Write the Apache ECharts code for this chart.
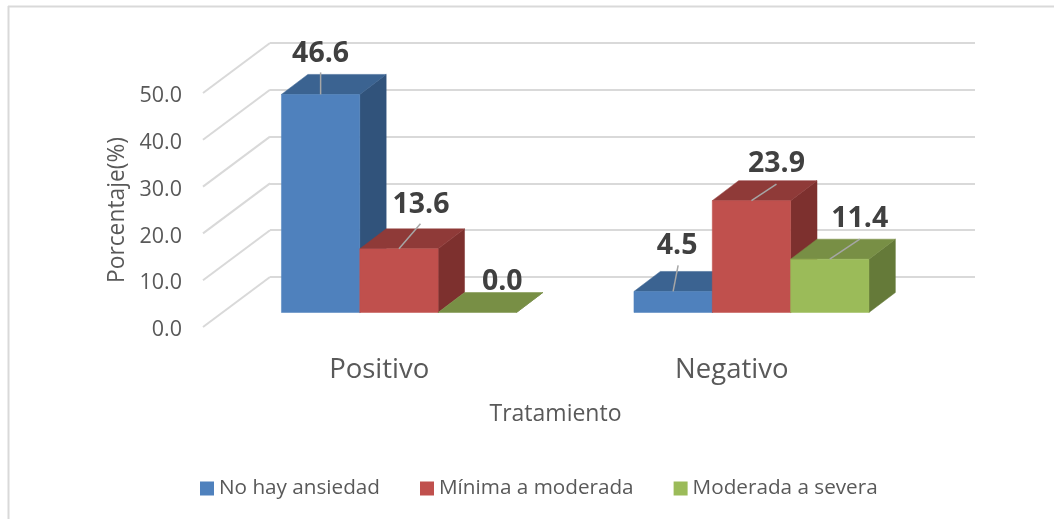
<!DOCTYPE html>
<html>
<head>
<meta charset="utf-8">
<style>html,body{margin:0;padding:0;background:#fff}#c{width:1054px;height:519px}</style>
<script src="https://cdn.jsdelivr.net/npm/echarts@6/dist/echarts.min.js"></script>
</head>
<body>
<div id="c"></div>
<script>
const categories = ['Positivo', 'Negativo'];
const noHayAnsiedad = [46.6, 4.5];
const minimaAModerada = [13.6, 23.9];
const moderadaASevera = [0.0, 11.4];
const wallTicks = [0, 10, 20, 30, 40, 50];

const FONT = '"Open Sans", "Noto Sans", sans-serif';
const seriesDefs = [
  { name: 'No hay ansiedad', values: noHayAnsiedad, front: '#4F81BD', top: '#3B6391', side: '#31537B', idx: 0 },
  { name: 'Mínima a moderada', values: minimaAModerada, front: '#C0504D', top: '#8F3A38', side: '#7D302E', idx: 1 },
  { name: 'Moderada a severa', values: moderadaASevera, front: '#9BBB59', top: '#788F45', side: '#657A39', idx: 2 }
];
// Label / leader offsets relative to the top-front centre of each bar [labelDx, labelDy, lineDx, lineDy]
const labelOffsets = [
  [[0, -41, 0, -22], [4, -46, 5, -26]],
  [[22, -44, 21.5, -25], [25, -37, 25, -16.5]],
  [[25, -31, 0, 0], [30, -40, 30, -20]]
];
// projection of the depth axis
const WALL = { dx: 67, dy: -50 };
const SHIFT = { dx: 19.7, dy: -14.5 };
const BAR_DEPTH = { dx: 26.4, dy: -20 };

function poly(points, fill) {
  return { type: 'polygon', shape: { points }, style: { fill, stroke: fill, lineWidth: 0.5 } };
}
function barRenderer(def) {
  return function (params, api) {
    const cat = api.value(0), val = api.value(1);
    const band = api.size([1, 0])[0];
    const w = band / 4.5;
    const c = api.coord([cat, val]);
    const base = api.coord([cat, 0]);
    const x = c[0] - 1.5 * w + def.idx * w + SHIFT.dx;
    const yT = c[1] + SHIFT.dy;
    const yB = base[1] + SHIFT.dy;
    const d = BAR_DEPTH;
    const children = [
      poly([[x + w, yT], [x + w + d.dx, yT + d.dy], [x + w + d.dx, yB + d.dy], [x + w, yB]], def.side),
      poly([[x, yT], [x + d.dx, yT + d.dy], [x + w + d.dx, yT + d.dy], [x + w, yT]], def.top)
    ];
    if (yB - yT > 0.5) children.push(poly([[x, yT], [x + w, yT], [x + w, yB], [x, yB]], def.front));
    const off = labelOffsets[def.idx][cat];
    const cx = x + w / 2;
    if (off[2] !== 0 || off[3] !== 0) {
      children.push({
        type: 'line', z2: 50,
        shape: { x1: cx, y1: yT, x2: cx + off[2], y2: yT + off[3] },
        style: { stroke: '#A6A6A6', lineWidth: 1.5 }
      });
    }
    children.push({
      type: 'text', z2: 60, x: cx + off[0], y: yT + off[1],
      style: {
        text: val.toFixed(1), fill: '#404040', align: 'center', verticalAlign: 'middle',
        font: 'bold 28.5px ' + FONT
      }
    });
    return { type: 'group', children };
  };
}
function wallRenderer(params, api) {
  const v = api.value(1);
  const c = api.coord([0, v]);
  const x = c[0] - api.size([1, 0])[0] / 2;
  return {
    type: 'line',
    shape: { x1: x, y1: c[1], x2: x + WALL.dx, y2: c[1] + WALL.dy },
    style: { stroke: '#D9D9D9', lineWidth: 2 }
  };
}

const option = {
  animation: false,
  backgroundColor: '#fff',
  textStyle: { fontFamily: FONT },
  graphic: [
    { type: 'line', silent: true, shape: { x1: 8, y1: 6.5, x2: 1054, y2: 6.5 }, style: { stroke: '#D9D9D9', lineWidth: 2 } },
    { type: 'line', silent: true, shape: { x1: 8.5, y1: 6, x2: 8.5, y2: 519 }, style: { stroke: '#D9D9D9', lineWidth: 2 } }
  ],
  legend: {
    left: 195, top: 473, itemWidth: 14, itemHeight: 14, itemGap: 40, icon: 'rect',
    data: seriesDefs.map(d => d.name),
    textStyle: { fontFamily: FONT, fontSize: 20.7, color: '#595959' },
    itemStyle: { borderWidth: 0 }
  },
  grid: [
    { left: 203, width: 705, top: 93, height: 234, containLabel: false },
    { left: 270, width: 705, top: 43, height: 234, containLabel: false },
    { left: 203, width: 705, top: 96, height: 234, containLabel: false }
  ],
  xAxis: [
    {
      type: 'category', gridIndex: 0, data: categories,
      axisLine: { show: false }, axisTick: { show: false }, splitLine: { show: false },
      axisLabel: { fontSize: 27.5, color: '#595959', margin: 29, fontFamily: FONT },
      name: 'Tratamiento', nameLocation: 'middle', nameGap: 76,
      nameTextStyle: { fontSize: 23, color: '#595959', fontFamily: FONT }
    },
    { type: 'category', gridIndex: 1, data: categories, show: false },
    { type: 'category', gridIndex: 2, data: categories, show: false }
  ],
  yAxis: [
    {
      type: 'value', gridIndex: 0, min: 0, max: 50, interval: 10,
      axisLine: { show: false }, axisTick: { show: false }, splitLine: { show: false },
      axisLabel: { show: false },
      name: 'Porcentaje(%)', nameLocation: 'middle', nameGap: 74,
      nameTextStyle: { fontSize: 22.8, color: '#595959', fontFamily: FONT }
    },
    {
      type: 'value', gridIndex: 1, min: 0, max: 50, interval: 10,
      axisLine: { show: false }, axisTick: { show: false }, axisLabel: { show: false },
      splitLine: { show: true, lineStyle: { color: '#D9D9D9', width: 2 } }
    },
    {
      type: 'value', gridIndex: 2, min: 0, max: 50, interval: 10,
      axisLine: { show: false }, axisTick: { show: false }, splitLine: { show: false },
      axisLabel: { fontSize: 21.5, color: '#595959', margin: 21, fontFamily: FONT, formatter: v => v.toFixed(1) }
    }
  ],
  series: [
    {
      type: 'custom', name: 'wall', xAxisIndex: 0, yAxisIndex: 0, silent: true, clip: false,
      renderItem: wallRenderer, encode: { x: 0, y: 1 },
      data: wallTicks.map(t => [0, t])
    }
  ].concat(seriesDefs.map(def => ({
    type: 'custom', name: def.name, xAxisIndex: 0, yAxisIndex: 0, clip: false,
    itemStyle: { color: def.front },
    renderItem: barRenderer(def), encode: { x: 0, y: 1 },
    data: def.values.map((v, i) => [i, v])
  })))
};
const chart = echarts.init(document.getElementById('c'), null, { renderer: 'canvas' });
chart.setOption(option);
</script>
</body>
</html>
